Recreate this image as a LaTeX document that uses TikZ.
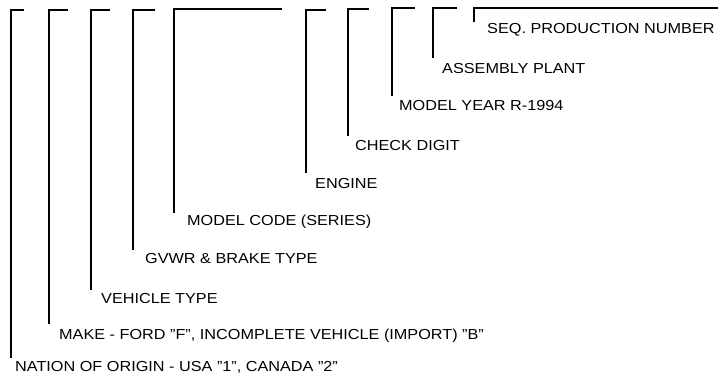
\documentclass[tikz,border=0pt]{standalone}
\usepackage{fontspec}
\setmainfont{Liberation Sans}[FakeStretch=1.12]
\begin{document}
\begin{tikzpicture}[x=1pt,y=-1pt,
  lbl/.style={anchor=west,inner sep=0pt,font=\fontsize{14.5}{16}\selectfont},
  brk/.style={line width=1.7pt,line join=miter,line cap=butt}]
\useasboundingbox (0,0) rectangle (718,384);
% labels
\node[lbl] (l1)  at (15,367)  {NATION OF ORIGIN - USA "1", CANADA "2"};
\node[lbl] (l2)  at (59,336)  {MAKE - FORD "F", INCOMPLETE VEHICLE (IMPORT) "B"};
\node[lbl] (l3)  at (101,299) {VEHICLE TYPE};
\node[lbl] (l4)  at (145,259) {GVWR \& BRAKE TYPE};
\node[lbl] (l5)  at (187,222) {MODEL CODE (SERIES)};
\node[lbl] (l6)  at (315,184) {ENGINE};
\node[lbl] (l7)  at (355,146) {CHECK DIGIT};
\node[lbl] (l8)  at (399,106) {MODEL YEAR R-1994};
\node[lbl] (l9)  at (442,69)  {ASSEMBLY PLANT};
\node[lbl] (l10) at (487,30)  {SEQ. PRODUCTION NUMBER};
% bracket corners, ends of top bars, bottoms
\coordinate (c1) at (11,10);  \coordinate (h1) at (24,10);  \coordinate (b1) at (11,358);
\coordinate (c2) at (49,10);  \coordinate (h2) at (68,10);  \coordinate (b2) at (49,324);
\coordinate (c3) at (91,10);  \coordinate (h3) at (110,10); \coordinate (b3) at (91,290);
\coordinate (c4) at (133,10); \coordinate (h4) at (155,10); \coordinate (b4) at (133,250);
\coordinate (c5) at (174,9);  \coordinate (h5) at (282,9);  \coordinate (b5) at (174,213);
\coordinate (c6) at (306,10); \coordinate (h6) at (326,10); \coordinate (b6) at (306,173);
\coordinate (c7) at (348,9);  \coordinate (h7) at (369,9);  \coordinate (b7) at (348,136);
\coordinate (c8) at (392,8);  \coordinate (h8) at (415,8);  \coordinate (b8) at (392,96);
\coordinate (c9) at (433,8);  \coordinate (h9) at (457,8);  \coordinate (b9) at (433,58);
\coordinate (c10) at (474,8); \coordinate (h10) at (718,8); \coordinate (b10) at (474,22);
\foreach \i in {1,...,10}{
  \draw[brk] (h\i) -- (c\i) -- (b\i);
}
\end{tikzpicture}
\end{document}
